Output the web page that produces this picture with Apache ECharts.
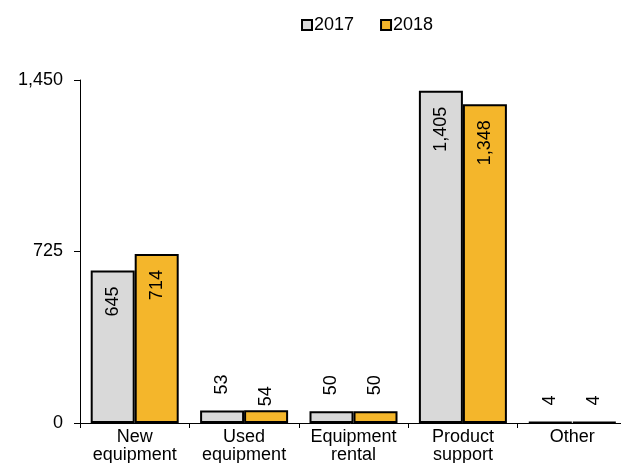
<!DOCTYPE html>
<html>
<head>
<meta charset="utf-8">
<script src="https://cdn.jsdelivr.net/npm/echarts@6/dist/echarts.min.js"></script>
<style>html,body{margin:0;padding:0;background:#fff;}#c{width:621px;height:463px;}</style>
</head>
<body>
<div id="c"></div>
<script>
const categories = ['New\nequipment', 'Used\nequipment', 'Equipment\nrental', 'Product\nsupport', 'Other'];
const seriesNames = ['2017', '2018'];
const values2017 = [645, 53, 50, 1405, 4];
const values2018 = [714, 54, 50, 1348, 4];
const yTicks = [0, 725, 1450];

const FONT = 'Liberation Sans, Arial, sans-serif';
const fmt = v => String(v).replace(/\B(?=(\d{3})+(?!\d))/g, ',');

function buildData(vals, distOverride) {
  return vals.map((v, i) => {
    const inside = v > 300;
    const d = (distOverride && distOverride[i] != null) ? distOverride[i] : (inside ? 16 : 16);
    return {
      value: v,
      label: inside
        ? { position: 'insideTop', distance: d, rotate: 90, align: 'right', verticalAlign: 'middle' }
        : { position: 'top', distance: d, rotate: 90, align: 'left', verticalAlign: 'middle' }
    };
  });
}

const labelBase = {
  show: true, color: '#000', fontFamily: FONT, fontSize: 18,
  formatter: p => fmt(p.value)
};

const chart = echarts.init(document.getElementById('c'), null, { renderer: 'canvas' });
chart.setOption({
  animation: false,
  backgroundColor: '#fff',
  legend: {
    data: seriesNames,
    left: 296, top: 11,
    itemWidth: 10, itemHeight: 10, itemGap: 26,
    icon: 'rect',
    textStyle: { fontFamily: FONT, fontSize: 18, color: '#000', padding: [0, 0, 0, -3] },
    itemStyle: { borderColor: '#000', borderWidth: 2 }
  },
  grid: { left: 80, right: -6, top: 80, bottom: 40, containLabel: false, outerBoundsMode: 'none' },
  xAxis: {
    type: 'category',
    data: categories,
    axisLine: { lineStyle: { color: '#000', width: 1 } },
    axisTick: { show: true, length: 5, lineStyle: { color: '#000' } },
    axisLabel: { fontFamily: FONT, fontSize: 18, color: '#000', margin: 5, lineHeight: 18, interval: 0 }
  },
  yAxis: {
    type: 'value',
    min: yTicks[0], max: yTicks[yTicks.length - 1], interval: yTicks[1] - yTicks[0],
    splitLine: { show: false },
    axisLine: { show: true, lineStyle: { color: '#000', width: 1 } },
    axisTick: { show: true, length: 6, lineStyle: { color: '#000' } },
    axisLabel: { fontFamily: FONT, fontSize: 18, color: '#000', margin: 17, formatter: v => fmt(v) }
  },
  series: [
    {
      name: seriesNames[0], type: 'bar', barWidth: 44, barGap: '0%',
      itemStyle: { color: '#D9D9D9', borderColor: '#000', borderWidth: 2 },
      label: labelBase,
      data: buildData(values2017)
    },
    {
      name: seriesNames[1], type: 'bar', barWidth: 44, barGap: '0%',
      itemStyle: { color: '#F4B62B', borderColor: '#000', borderWidth: 2 },
      label: labelBase,
      data: buildData(values2018, { 1: 4 })
    }
  ]
});
</script>
</body>
</html>
